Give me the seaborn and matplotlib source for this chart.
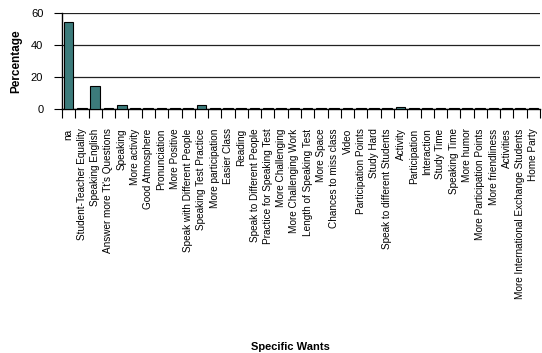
import matplotlib
matplotlib.use("Agg")
import matplotlib.pyplot as plt
import seaborn as sns
import pandas as pd
from matplotlib.ticker import FixedLocator

categories = [
    "na", "Student-Teacher Equality", "Speaking English", "Answer more Tt's Questions",
    "Speaking", "More activity", "Good Atmosphere", "Pronunciation", "More Positive",
    "Speak with Different People", "Speaking Test Practice", "More participation",
    "Easier Class", "Reading", "Speak to Different People", "Practice for Speaking Test",
    "More Challenging", "More Challenging Work", "Length of Speaking Test", "More Space",
    "Chances to miss class", "Video", "Participation Points", "Study Hard",
    "Speak to different Students", "Activity", "Participation", "Interaction",
    "Study Time", "Speaking Time", "More humor", "More Participation Points",
    "More friendliness", "Activities", "More International Exchange Students", "Home Party",
]
percentages = [
    54.2, 0.6, 14.5, 0.6, 2.4, 0.6, 0.6, 0.6, 0.6, 0.6, 2.4, 0.6,
    0.6, 0.6, 0.6, 0.6, 0.6, 0.6, 0.6, 0.6, 0.6, 0.6, 0.6, 0.6,
    0.6, 1.2, 0.6, 0.6, 0.6, 0.6, 0.6, 0.6, 0.6, 0.6, 0.6, 0.6,
]
y_ticks = [0, 20, 40, 60]

sns.set_theme(style="white")
plt.rcParams["font.family"] = ["Liberation Sans", "DejaVu Sans"]
plt.rcParams.update({
    "text.color": "black",
    "axes.labelcolor": "black",
    "xtick.color": "black",
    "ytick.color": "black",
})

df = pd.DataFrame({"Specific Wants": categories, "Percentage": percentages})

fig = plt.figure(figsize=(5.42, 3.53), dpi=100)
ax = fig.add_axes([62 / 542, 1 - 109 / 353, (540 - 62) / 542, (109 - 13) / 353])

sns.barplot(data=df, x="Specific Wants", y="Percentage", color="#3c7b7b",
            saturation=1, edgecolor="black", linewidth=0.8, width=0.73, ax=ax, zorder=3)

ax.set_xlim(-0.5, len(categories) - 0.5)
ax.set_ylim(0, 60)
ax.set_yticks(y_ticks)
ax.yaxis.grid(True, color="#222222", linewidth=0.9)
ax.set_axisbelow(True)

for side in ["top", "right"]:
    ax.spines[side].set_visible(False)
for side in ["left", "bottom"]:
    ax.spines[side].set_color("black")
    ax.spines[side].set_linewidth(1.0)

# category labels at bar centres, tick marks between categories
ax.set_xticks(range(len(categories)))
ax.set_xticklabels(categories, rotation=90, fontsize=7.2)
ax.tick_params(axis="x", which="major", length=0, pad=14)
ax.xaxis.set_minor_locator(FixedLocator([i - 0.5 for i in range(len(categories) + 1)]))
ax.tick_params(axis="x", which="minor", bottom=True, length=6.2, width=0.8, color="black")

ax.tick_params(axis="y", which="major", left=True, length=5.5, width=0.8, color="black",
               labelsize=8, pad=8)

ax.set_xlabel("Specific Wants", fontsize=8, fontweight="bold")
ax.xaxis.set_label_coords(0.478, -(342 - 109) / 96)
ax.set_ylabel("Percentage", fontsize=8.5, fontweight="bold", labelpad=6)

fig.savefig("out.png", dpi=100)
